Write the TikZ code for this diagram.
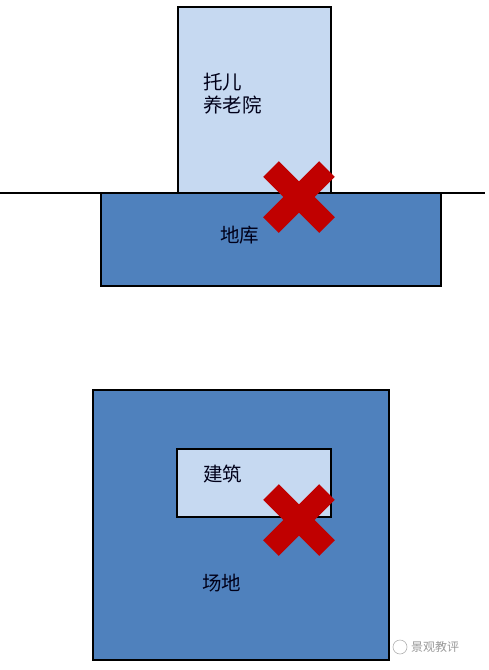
\documentclass[tikz,border=0pt]{standalone}
\usepackage{fontspec}
\usetikzlibrary{calc}
\newfontfamily\cjk{Noto Sans CJK SC}
\definecolor{lightbl}{HTML}{C6D9F1}
\definecolor{darkbl}{HTML}{4F81BD}
\definecolor{crossred}{HTML}{C00000}
\tikzset{
  boxlight/.style={draw=black, line width=1.6pt, fill=lightbl},
  boxdark/.style={draw=black, line width=1.6pt, fill=darkbl},
  lbl/.style={font=\cjk\fontsize{19.5pt}{23pt}\selectfont, text=black!90!blue, inner sep=0pt, anchor=west, align=left},
  crossbar/.style={draw=crossred, line width=22pt, line cap=butt},
}
\begin{document}
\begin{tikzpicture}[x=1pt,y=-1pt]
\useasboundingbox (0,0) rectangle (489,670);
% top section
\path[boxlight] (178,7) rectangle (331,193);
\path[boxdark] (101,193) rectangle (441,286);
\coordinate (gl) at (0,193);
\coordinate (gr) at (485,193);
\draw[line width=1.4pt] (gl) -- (gr);
\node[lbl] (t1) at (203,94) {托儿\\养老院};
\node[lbl] (t2) at (220,235) {地库};
\coordinate (x1) at (299,197);
\draw[crossbar] ($(x1)+(-28,-28)$) -- ($(x1)+(28,28)$);
\draw[crossbar] ($(x1)+(-28,28)$) -- ($(x1)+(28,-28)$);
% bottom section
\path[boxdark] (93,390) rectangle (389,660);
\path[boxlight] (177,449) rectangle (331,517);
\node[lbl] (t3) at (203,474) {建筑};
\node[lbl] (t4) at (202,583) {场地};
\coordinate (x2) at (299,520);
\draw[crossbar] ($(x2)+(-28,-28)$) -- ($(x2)+(28,28)$);
\draw[crossbar] ($(x2)+(-28,28)$) -- ($(x2)+(28,-28)$);
% watermark
\draw[black!30, line width=0.6pt] (400,647) circle (7);
\node[font=\cjk\fontsize{12pt}{14pt}\selectfont, text=black!40, anchor=west, inner sep=0pt] (wm) at (411,647) {景观教评};
\end{tikzpicture}
\end{document}
